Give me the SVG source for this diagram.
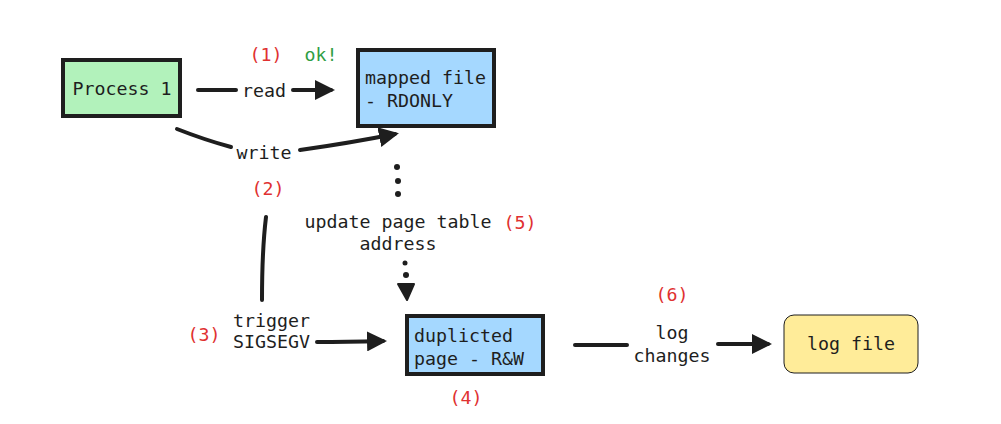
<svg xmlns="http://www.w3.org/2000/svg" width="1001" height="424" viewBox="0 0 1001 424">
<style>
text{font-family:"DejaVu Sans Mono","Liberation Mono",monospace;font-size:18.3px;fill:#1e1e1e}
.red{fill:#e03131}
.grn{fill:#2f9e44}
.c{text-anchor:middle}
.box{stroke:#1e1e1e;stroke-width:4}
.ln{fill:none;stroke:#1e1e1e;stroke-width:4;stroke-linecap:round}
.dot{fill:#1e1e1e}
</style>
<defs>
<marker id="ah" viewBox="0 0 10 10" refX="8" refY="5" markerWidth="5" markerHeight="5" markerUnits="strokeWidth" orient="auto">
<path d="M0,0 L10,5 L0,10 z" fill="#1e1e1e"/>
</marker>
</defs>
<rect width="1001" height="424" fill="#ffffff"/>
<g id="connectors">
<path class="ln" d="M198,90 L236,90"/>
<path class="ln" d="M293,90 L331,90" marker-end="url(#ah)"/>
<path class="ln" d="M177,129 Q205,140 231,147"/>
<path class="ln" d="M300,150 Q350,143 395,134" marker-end="url(#ah)"/>
<circle class="dot" cx="397" cy="167" r="3"/>
<circle class="dot" cx="398" cy="181" r="3"/>
<circle class="dot" cx="398" cy="194" r="3"/>
<circle class="dot" cx="405" cy="263" r="2.5"/>
<circle class="dot" cx="406" cy="275" r="3"/>
<path d="M398,284 L414,284 L407,300 z" fill="#1e1e1e" stroke="#1e1e1e" stroke-width="2" stroke-linejoin="round"/>
<path class="ln" d="M266,217 Q262,250 262,300"/>
<path class="ln" d="M317,342 Q345,342 383,341" marker-end="url(#ah)"/>
<path class="ln" d="M575,345 L627,345"/>
<path class="ln" d="M718,344 L768,344" marker-end="url(#ah)"/>
<text class="c" x="264" y="97">read</text>
<text class="c" x="264" y="159">write</text>
<text class="c" x="398" y="228">update page table</text>
<text class="c" x="398" y="250">address</text>
<text x="233" y="327">trigger</text>
<text x="233" y="348">SIGSEGV</text>
<text class="c" x="672" y="339">log</text>
<text class="c" x="672" y="362">changes</text>
</g>
<g id="process1">
<rect class="box" x="63" y="60" width="117" height="56" fill="#b2f2bb"/>
<text class="c" x="122" y="95">Process 1</text>
</g>
<g id="mappedfile">
<rect class="box" x="358" y="50" width="136" height="76" fill="#a5d8ff"/>
<text x="365" y="84">mapped file</text>
<text x="365" y="107">- RDONLY</text>
</g>
<g id="duplicated">
<rect class="box" x="407" y="316" width="136" height="58" fill="#a5d8ff"/>
<text x="414" y="342">duplicted</text>
<text x="414" y="365">page - R&amp;W</text>
</g>
<g id="logfile">
<rect x="784" y="315" width="134" height="58" rx="10" fill="#ffec99" stroke="#1e1e1e" stroke-width="1"/>
<text class="c" x="851" y="350">log file</text>
</g>
<g id="labels">
<text class="c red" x="266" y="61">(1)</text>
<text class="c grn" x="321" y="61">ok!</text>
<text class="c red" x="268" y="195">(2)</text>
<text class="c red" x="204" y="341">(3)</text>
<text class="c red" x="466" y="404">(4)</text>
<text class="c red" x="520" y="229">(5)</text>
<text class="c red" x="672" y="301">(6)</text>
</g>
</svg>
